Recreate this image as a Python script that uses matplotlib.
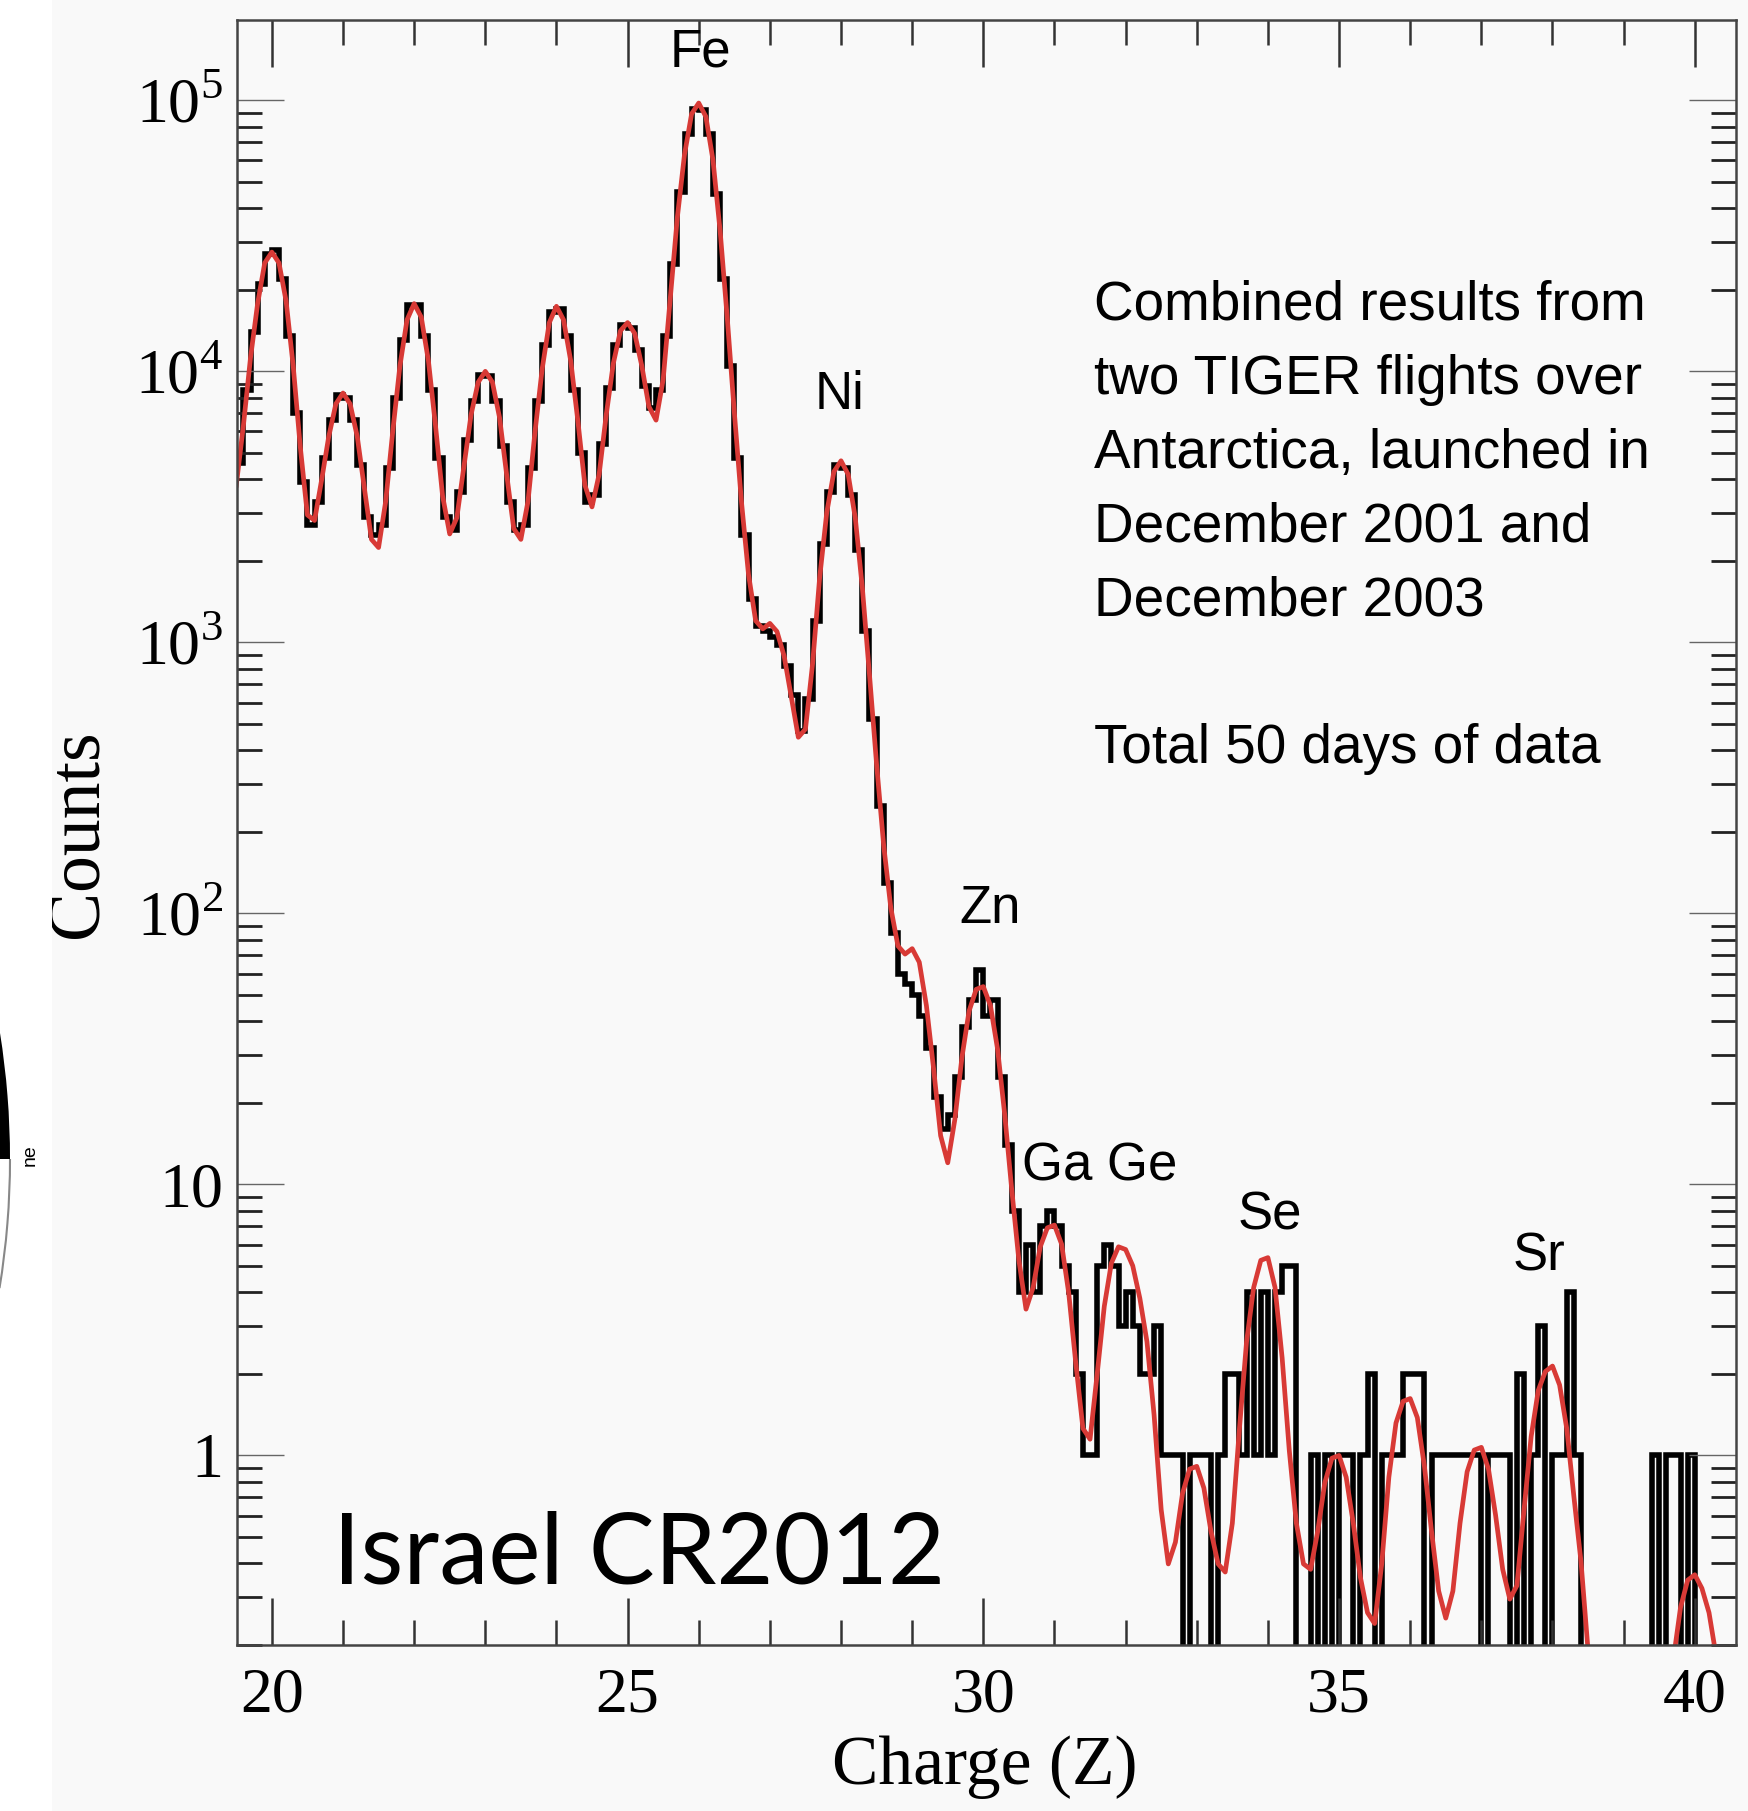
import numpy as np
import matplotlib
matplotlib.use('Agg')
import matplotlib.pyplot as plt
from matplotlib.patches import Wedge, Arc, Rectangle
from matplotlib.ticker import FixedLocator, FixedFormatter, LogLocator, MultipleLocator, NullFormatter

plt.rcParams['font.family'] = ['Liberation Serif', 'DejaVu Serif']
plt.rcParams['mathtext.fontset'] = 'custom'
plt.rcParams['mathtext.rm'] = 'Liberation Serif'

# histogramme en charge, pas de 0.1
z_start = 19.5
bin_width = 0.1

counts = [
    4600, 8500, 14000, 21000, 27000, 28000, 22000, 13500, 7000, 3900,       # 19.5
    2700, 3300, 4800, 6600, 8200, 8000, 6600, 4500, 2900, 2500,             # 20.5
    2700, 4400, 8000, 13000, 17500, 17500, 13500, 8500, 4800, 2900,         # 21.5
    2600, 3600, 5600, 7800, 9700, 9600, 7800, 5300, 3300, 2600,             # 22.5
    2700, 4400, 7800, 12500, 16500, 17000, 13500, 8500, 5000, 3300,         # 23.5
    3500, 5400, 8700, 12500, 14800, 14500, 12000, 8800, 7300, 8500,         # 24.5
    13500, 25000, 46000, 75000, 93000, 92000, 75000, 45000, 22000, 10500,   # 25.5
    4800, 2500, 1450, 1150, 1100, 1050, 980, 820, 640, 470,                 # 26.5
    620, 1200, 2300, 3600, 4500, 4400, 3500, 2200, 1100, 520,               # 27.5
    250, 130, 85, 60, 55, 50, 42, 32, 21, 16,                               # 28.5
    18, 25, 38, 48, 62, 42, 48, 25, 14, 8,                                  # 29.5
    4, 6, 4, 7, 8, 7, 5, 4, 2, 1,                                           # 30.5
    1, 5, 6, 5, 3, 4, 3, 2, 2, 3,                                           # 31.5
    1, 1, 1, 0, 1, 1, 1, 0, 1, 2,                                           # 32.5
    2, 1, 4, 1, 4, 1, 4, 5, 5, 0,                                           # 33.5
    0, 1, 0, 1, 0, 1, 1, 0, 1, 2,                                           # 34.5
    0, 1, 1, 1, 2, 2, 2, 0, 1, 1,                                           # 35.5
    1, 1, 1, 1, 1, 0, 1, 1, 1, 0,                                           # 36.5
    2, 0, 1, 3, 0, 1, 1, 4, 1, 0,                                           # 37.5
    0, 0, 0, 0, 0, 0, 0, 0, 0, 1,                                           # 38.5
    0, 1, 1, 0, 1, 0, 0, 0, 0, 0,                                           # 39.5
    0,                                                                      # 40.5
]

# ajustement (log10 des coups) aux bords des bins
fit_log10 = [
    3.58, 3.80, 4.05, 4.25, 4.40, 4.44, 4.40, 4.26, 4.02, 3.72,
    3.47, 3.45, 3.60, 3.76, 3.88, 3.92, 3.88, 3.76, 3.57, 3.38,
    3.35, 3.52, 3.78, 4.02, 4.19, 4.25, 4.20, 4.04, 3.80, 3.54,
    3.40, 3.46, 3.65, 3.84, 3.96, 4.00, 3.96, 3.83, 3.62, 3.42,
    3.38, 3.52, 3.78, 4.01, 4.18, 4.24, 4.19, 4.04, 3.82, 3.58,
    3.50, 3.62, 3.84, 4.03, 4.15, 4.18, 4.14, 4.02, 3.87, 3.82,
    3.97, 4.27, 4.57, 4.80, 4.95, 4.99, 4.94, 4.78, 4.52, 4.20,
    3.85, 3.52, 3.25, 3.08, 3.05, 3.07, 3.04, 2.95, 2.80, 2.65,
    2.68, 2.92, 3.24, 3.48, 3.63, 3.67, 3.62, 3.46, 3.20, 2.88,
    2.55, 2.25, 2.02, 1.88, 1.85, 1.87, 1.82, 1.66, 1.43, 1.18,
    1.08, 1.24, 1.47, 1.64, 1.72, 1.73, 1.66, 1.50, 1.26, 0.98,
    0.72, 0.54, 0.62, 0.77, 0.84, 0.85, 0.78, 0.60, 0.34, 0.10,
    0.06, 0.30, 0.55, 0.71, 0.77, 0.76, 0.70, 0.58, 0.42, 0.15,
    -0.20, -0.40, -0.32, -0.14, -0.05, -0.04, -0.12, -0.28, -0.40, -0.43,
    -0.25, 0.10, 0.42, 0.62, 0.72, 0.73, 0.62, 0.36, 0.02, -0.25,
    -0.40, -0.42, -0.28, -0.10, -0.01, 0.00, -0.08, -0.25, -0.45, -0.58,
    -0.62, -0.40, -0.08, 0.12, 0.20, 0.21, 0.14, -0.04, -0.28, -0.50,
    -0.60, -0.50, -0.25, -0.06, 0.02, 0.03, -0.05, -0.22, -0.42, -0.53,
    -0.48, -0.20, 0.07, 0.24, 0.31, 0.33, 0.26, 0.10, -0.15, -0.39,
    -0.72, -1.10, -1.50, -1.90, -2.00, -2.00, -2.00, -2.00, -2.00, -1.90,
    -1.50, -1.00, -0.75, -0.56, -0.46, -0.44, -0.49, -0.58, -0.74, -1.00,
    -1.30,
]

decades = [1, 10, 100, 1000, 1e4, 1e5]
decade_labels = ['1', '10', '$10^2$', '$10^3$', '$10^4$', '$10^5$']
z_ticks = [20, 25, 30, 35, 40]

element_labels = ['Fe', 'Ni', 'Zn', 'Ga Ge', 'Se', 'Sr']
element_z = [26.03, 27.98, 30.09, 31.63, 34.02, 37.81]
element_counts = [1.5e5, 8.2e3, 104, 11.6, 7.7, 5.4]

note_lines = [
    'Combined results from',
    'two TIGER flights over',
    'Antarctica, launched in',
    'December 2001 and',
    'December 2003',
    '',
    'Total 50 days of data',
]

bg = '#f9f9f9'
fig = plt.figure(figsize=(17.49, 18.11), dpi=100, facecolor=bg)

# bout de diapo a gauche
fig.add_artist(Rectangle((0, 0), 52 / 1749, 1, transform=fig.transFigure,
                         facecolor='white', edgecolor='none'))
fig.add_artist(Wedge((-7.89, 6.52), 7.99, 0, 9.1, transform=fig.dpi_scale_trans,
                     facecolor='black', edgecolor='none'))
fig.add_artist(Arc((-7.89, 6.52), 2 * 7.99, 2 * 7.99, theta1=-9.3, theta2=0,
                   transform=fig.dpi_scale_trans, color='#888888', lw=1.5))
fig.text(30 / 1749, 1 - 1155 / 1811, 'ne', rotation=90, fontsize=14,
         family='Liberation Sans', ha='center', va='center')

ax = fig.add_axes([0.1355, 0.0917, 0.8571, 0.8973])
ax.set_facecolor(bg)

c = np.array(counts, dtype=float)
edges = z_start + bin_width * np.arange(len(c) + 1)
# les bins vides descendent sous l'axe
ax.stairs(np.where(c > 0, c, 0.05), edges, color='black', lw=4.0, baseline=None)

fit_z = z_start + bin_width * np.arange(len(fit_log10))
ax.plot(fit_z, 10 ** np.array(fit_log10), color='#d83a36', lw=3.4,
        solid_joinstyle='round')

ax.set_yscale('log')
ax.set_xlim(19.51, 40.58)
ax.set_ylim(0.2, 1.98e5)

ax.yaxis.set_major_locator(FixedLocator(decades))
ax.yaxis.set_major_formatter(FixedFormatter(decade_labels))
ax.yaxis.set_minor_locator(LogLocator(base=10, subs=range(2, 10), numticks=20))
ax.yaxis.set_minor_formatter(NullFormatter())
ax.xaxis.set_major_locator(FixedLocator(z_ticks))
ax.xaxis.set_minor_locator(MultipleLocator(1))

ax.tick_params(which='both', direction='in', top=True, right=True)
ax.tick_params(axis='y', which='major', length=34, width=1.0, color='#666666',
               labelsize=46, pad=10)
ax.tick_params(axis='y', which='minor', length=18, width=2.0, color='#222222')
ax.tick_params(axis='x', which='major', length=34, width=1.8, color='#333333',
               labelsize=46, pad=16)
ax.tick_params(axis='x', which='minor', length=18, width=1.8, color='#333333')
for s in ax.spines.values():
    s.set_color('#444444')
    s.set_linewidth(1.8)

ax.set_xlabel('Charge (Z)', fontsize=50, va='center')
ax.xaxis.set_label_coords(0.499, -0.075)
ax.set_ylabel('Counts', fontsize=53, va='center')
ax.yaxis.set_label_coords(-0.105, 0.499)

for lab, z, n in zip(element_labels, element_z, element_counts):
    ax.text(z, n, lab, ha='center', va='center', fontsize=38, family='Liberation Sans')

for i, line in enumerate(note_lines):
    ax.text(0.5717, 0.824 - i * 0.04545, line, transform=ax.transAxes,
            ha='left', va='center', fontsize=39.5, family='Liberation Sans')

ax.text(0.064, 0.038, 'Israel CR2012', transform=ax.transAxes, ha='left',
        va='baseline', fontsize=71, family='Lato')

fig.savefig('out.png', dpi=100, facecolor=bg)
